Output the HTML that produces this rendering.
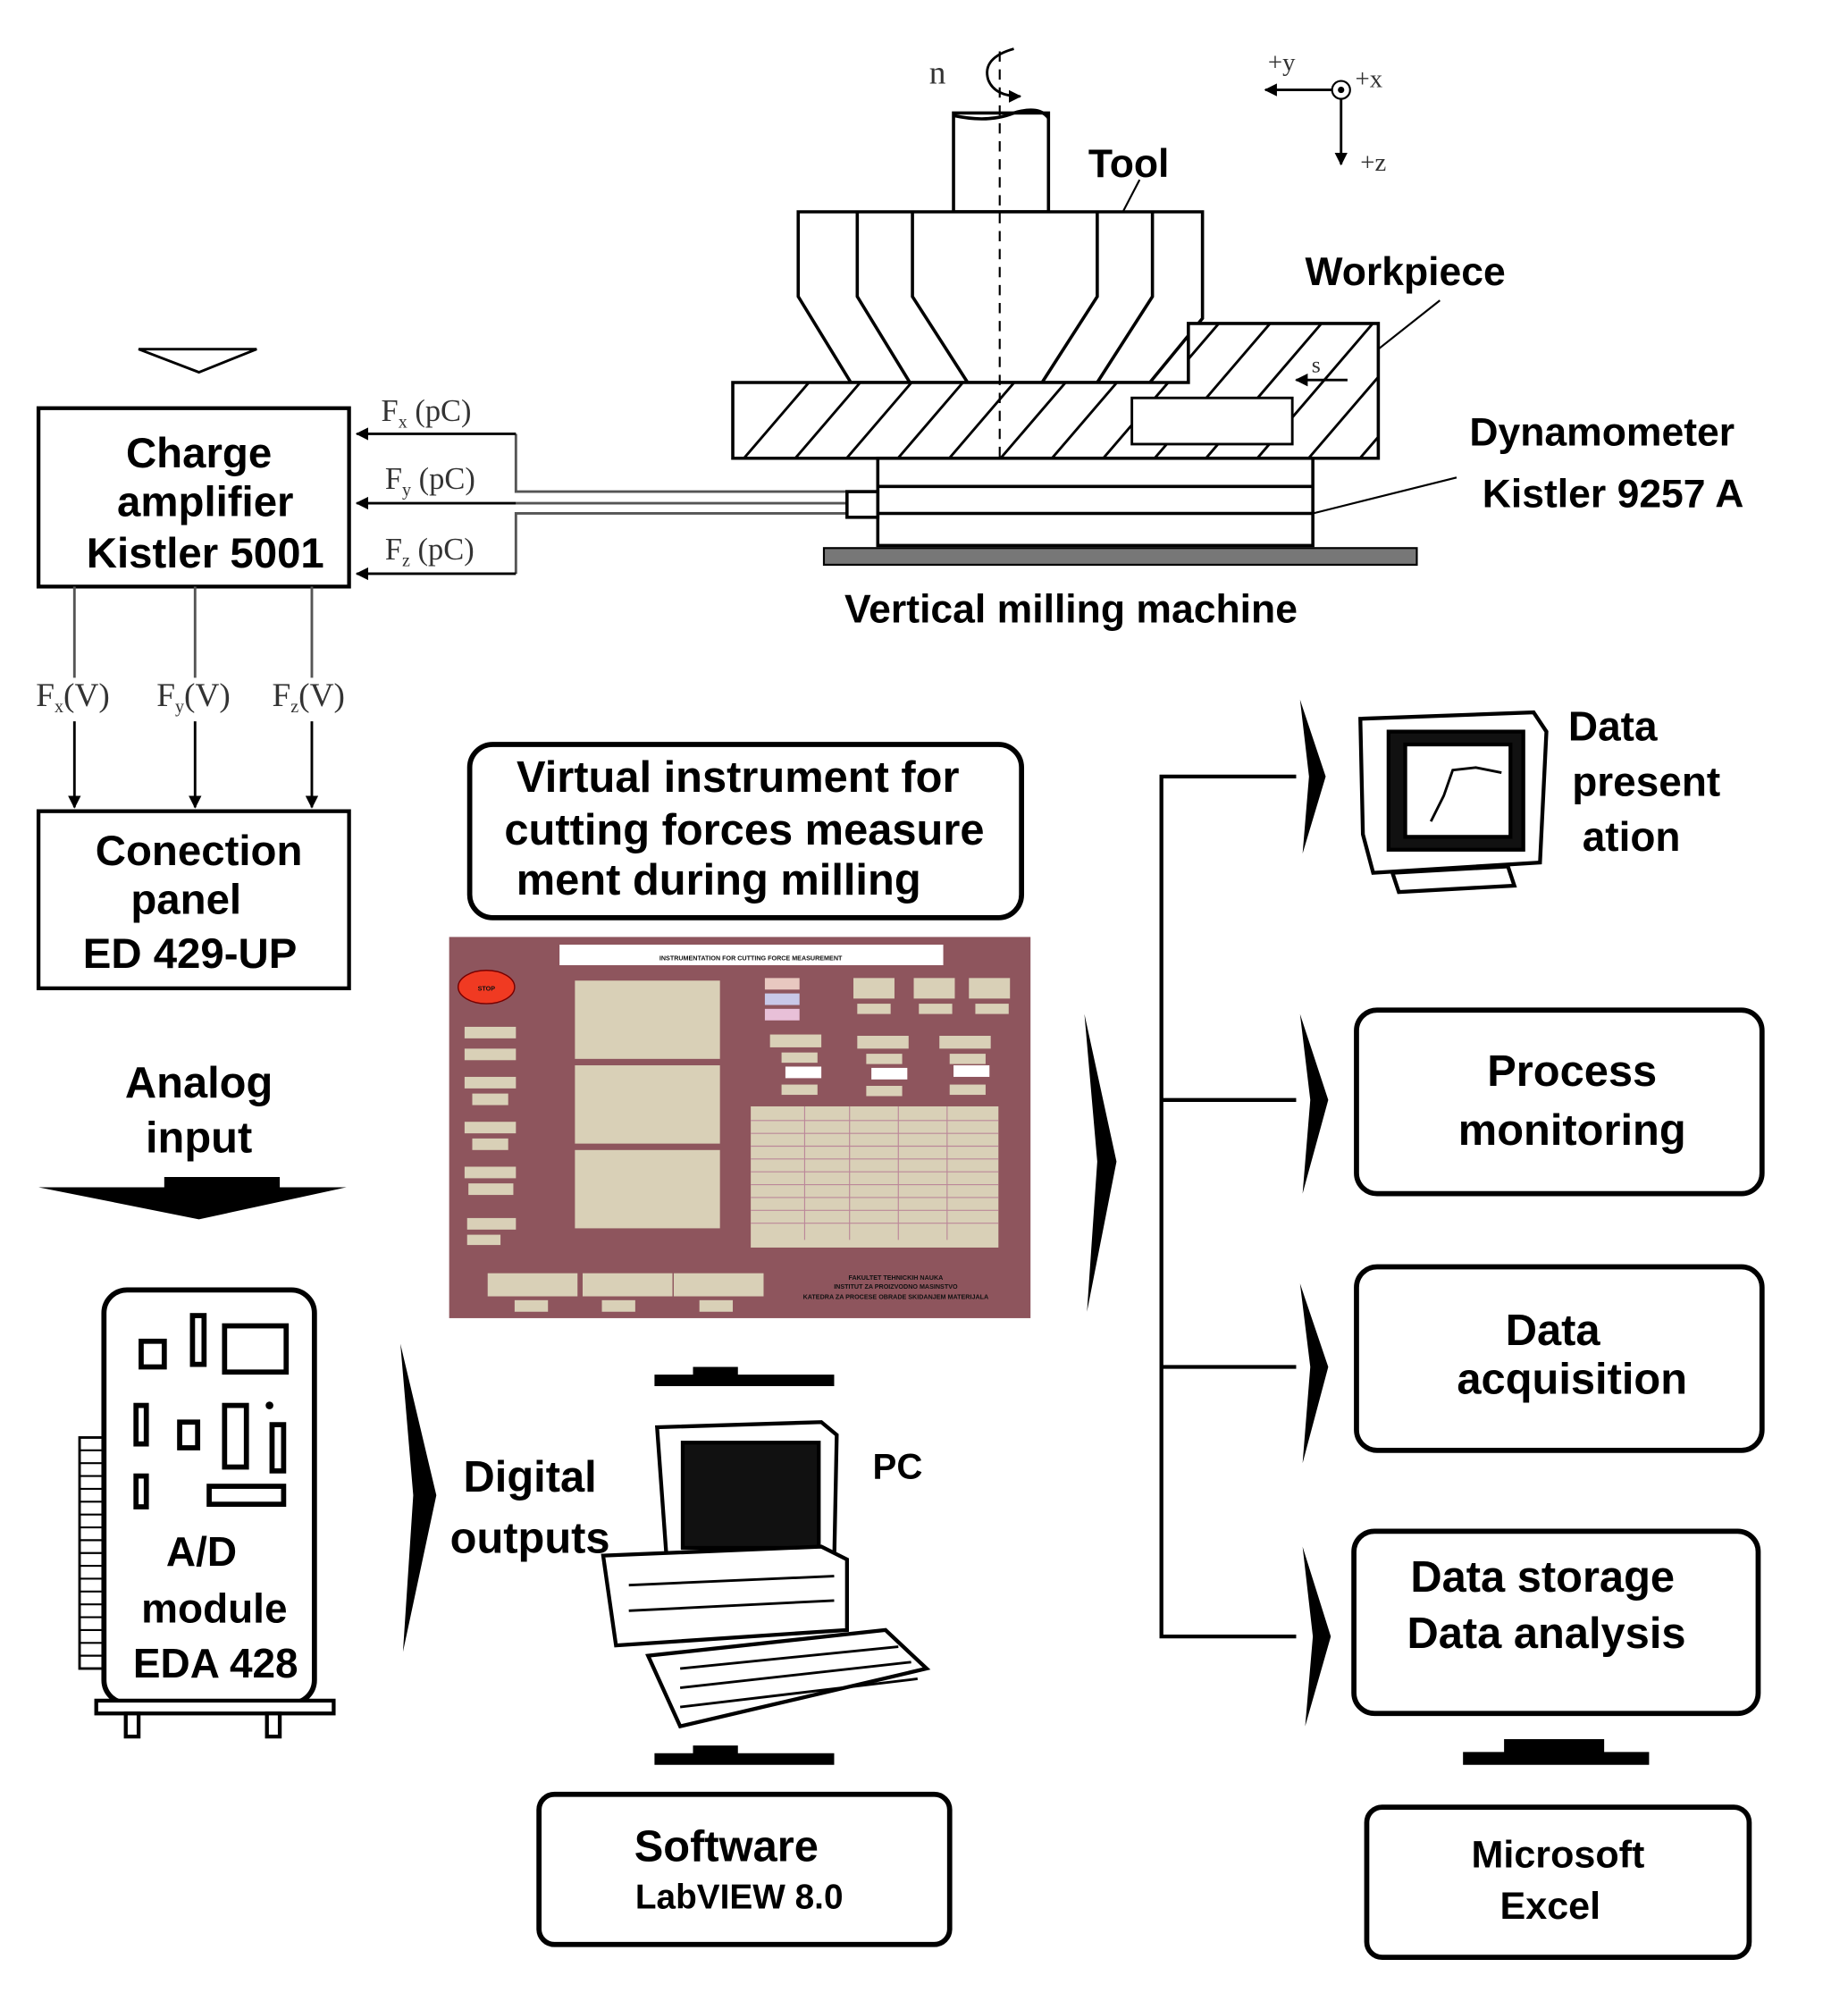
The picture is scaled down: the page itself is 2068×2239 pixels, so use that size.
<!DOCTYPE html>
<html><head><meta charset="utf-8"><style>
html,body{margin:0;padding:0;background:#fff;}
svg{display:block;}
.b{font-family:"Liberation Sans",sans-serif;font-weight:bold;fill:#000;}
.s{font-family:"Liberation Serif",serif;fill:#333;}
.p{font-family:"Liberation Sans",sans-serif;font-weight:bold;fill:#111;font-size:5px;}
</style></head><body>
<svg width="2068" height="2239" viewBox="0 0 1440 1559" xmlns="http://www.w3.org/2000/svg">
<defs>
<marker id="ah" markerWidth="10" markerHeight="10" refX="9" refY="5" orient="auto" markerUnits="userSpaceOnUse"><path d="M0,0 L10,5 L0,10 Z" fill="#000"/></marker>
<clipPath id="plate"><path d="M571,298 L926,298 L926,252 L1074,252 L1074,357 L571,357 Z"/></clipPath>
</defs>

<path d="M108,272 L200,272 L155,290 Z" fill="#fff" stroke="#000" stroke-width="2"/>

<rect x="30" y="318" width="242" height="139" fill="#fff" stroke="#000" stroke-width="3"/>
<text class="b" x="155" y="364" font-size="33" text-anchor="middle">Charge</text>
<text class="b" x="160" y="402" font-size="33" text-anchor="middle">amplifier</text>
<text class="b" x="160" y="442" font-size="33" text-anchor="middle">Kistler 5001</text>

<g fill="none" stroke="#555" stroke-width="2">
<polyline points="402,338 402,383 660,383"/>
<polyline points="402,447 402,400 660,400"/>
<line x1="402" y1="392" x2="660" y2="392"/>
<line x1="402" y1="338" x2="278" y2="338" stroke="#000" marker-end="url(#ah)"/>
<line x1="402" y1="392" x2="278" y2="392" stroke="#000" marker-end="url(#ah)"/>
<line x1="402" y1="447" x2="278" y2="447" stroke="#000" marker-end="url(#ah)"/>
</g>
<text class="s" x="297" y="328" font-size="24">F<tspan font-size="14" dy="5">x</tspan><tspan dy="-5"> (pC)</tspan></text>
<text class="s" x="300" y="381" font-size="24">F<tspan font-size="14" dy="5">y</tspan><tspan dy="-5"> (pC)</tspan></text>
<text class="s" x="300" y="436" font-size="24">F<tspan font-size="14" dy="5">z</tspan><tspan dy="-5"> (pC)</tspan></text>

<g stroke="#000" stroke-width="2.5" fill="none">
<rect x="743" y="88" width="74" height="77" fill="#fff"/>
<path d="M743,90 Q770,96 790,88 Q810,82 817,92" />
<path d="M622,165 L937,165 L937,248 L896,298 L663,298 L622,231 Z" fill="#fff"/>
<polyline points="668,165 668,231 709,298"/>
<polyline points="711,165 711,231 754,298"/>
<polyline points="855,165 855,231 812,298"/>
<polyline points="898,165 898,231 855,298"/>
<path d="M571,298 L926,298 L926,252 L1074,252 L1074,357 L571,357 Z" fill="#fff"/>
</g>
<g clip-path="url(#plate)" stroke="#000" stroke-width="2">
<line x1="560" y1="380" x2="680" y2="240"/><line x1="600" y1="380" x2="720" y2="240"/>
<line x1="640" y1="380" x2="760" y2="240"/><line x1="680" y1="380" x2="800" y2="240"/>
<line x1="720" y1="380" x2="840" y2="240"/><line x1="760" y1="380" x2="880" y2="240"/>
<line x1="800" y1="380" x2="920" y2="240"/><line x1="840" y1="380" x2="960" y2="240"/>
<line x1="880" y1="380" x2="1000" y2="240"/><line x1="920" y1="380" x2="1040" y2="240"/>
<line x1="960" y1="380" x2="1080" y2="240"/><line x1="1000" y1="380" x2="1120" y2="240"/>
<line x1="1040" y1="380" x2="1160" y2="240"/>
</g>
<rect x="882" y="310" width="125" height="36" fill="#fff" stroke="#000" stroke-width="2"/>
<line x1="779" y1="40" x2="779" y2="360" stroke="#000" stroke-width="1.5" stroke-dasharray="8,6"/>
<line x1="1050" y1="296" x2="1010" y2="296" stroke="#000" stroke-width="2" marker-end="url(#ah)"/>
<text class="s" x="1022" y="290" font-size="18">s</text>
<g stroke="#000" stroke-width="2.5" fill="#fff">
<rect x="684" y="357" width="339" height="68"/>
<line x1="684" y1="379" x2="1023" y2="379"/>
<line x1="684" y1="400" x2="1023" y2="400"/>
<rect x="660" y="383" width="24" height="20"/>
</g>
<rect x="642" y="427" width="462" height="13" fill="#777" stroke="#000" stroke-width="1.5"/>
<path d="M790,38 Q765,45 770,62 Q775,75 795,75" fill="none" stroke="#000" stroke-width="2" marker-end="url(#ah)"/>
<text class="s" x="724" y="65" font-size="26">n</text>
<circle cx="1045" cy="70" r="7" fill="none" stroke="#000" stroke-width="1.5"/>
<circle cx="1045" cy="70" r="2.5" fill="#000"/>
<line x1="1038" y1="70" x2="986" y2="70" stroke="#000" stroke-width="2" marker-end="url(#ah)"/>
<line x1="1045" y1="77" x2="1045" y2="128" stroke="#000" stroke-width="2" marker-end="url(#ah)"/>
<text class="s" x="988" y="55" font-size="20">+y</text>
<text class="s" x="1056" y="68" font-size="20">+x</text>
<text class="s" x="1060" y="133" font-size="20">+z</text>
<text class="b" x="848" y="138" font-size="31">Tool</text>
<line x1="888" y1="140" x2="875" y2="165" stroke="#000" stroke-width="1.5"/>
<text class="b" x="1017" y="222" font-size="31">Workpiece</text>
<line x1="1122" y1="234" x2="1074" y2="272" stroke="#000" stroke-width="1.5"/>
<text class="b" x="1145" y="347" font-size="31">Dynamometer</text>
<text class="b" x="1155" y="395" font-size="31">Kistler 9257 A</text>
<line x1="1135" y1="372" x2="1023" y2="400" stroke="#000" stroke-width="1.5"/>
<text class="b" x="658" y="485" font-size="31">Vertical milling machine</text>

<g stroke="#555" stroke-width="2">
<line x1="58" y1="457" x2="58" y2="528"/><line x1="152" y1="457" x2="152" y2="528"/><line x1="243" y1="457" x2="243" y2="528"/>
<line x1="58" y1="562" x2="58" y2="629" stroke="#000" marker-end="url(#ah)"/>
<line x1="152" y1="562" x2="152" y2="629" stroke="#000" marker-end="url(#ah)"/>
<line x1="243" y1="562" x2="243" y2="629" stroke="#000" marker-end="url(#ah)"/>
</g>
<text class="s" x="28" y="550" font-size="26" fill="#555">F<tspan font-size="14" dy="5">x</tspan><tspan dy="-5">(V)</tspan></text>
<text class="s" x="122" y="550" font-size="26" fill="#555">F<tspan font-size="14" dy="5">y</tspan><tspan dy="-5">(V)</tspan></text>
<text class="s" x="212" y="550" font-size="26" fill="#555">F<tspan font-size="14" dy="5">z</tspan><tspan dy="-5">(V)</tspan></text>

<rect x="30" y="632" width="242" height="138" fill="#fff" stroke="#000" stroke-width="3"/>
<text class="b" x="155" y="674" font-size="33" text-anchor="middle">Conection</text>
<text class="b" x="145" y="712" font-size="33" text-anchor="middle">panel</text>
<text class="b" x="148" y="754" font-size="33" text-anchor="middle">ED 429-UP</text>

<text class="b" x="155" y="855" font-size="34" text-anchor="middle">Analog</text>
<text class="b" x="155" y="898" font-size="34" text-anchor="middle">input</text>
<path d="M128,917 L218,917 L218,925 L270,925 L155,950 L30,925 L128,925 Z" fill="#000"/>

<rect x="62" y="1120" width="20" height="180" fill="#fff" stroke="#000" stroke-width="2"/>
<g stroke="#000" stroke-width="1.5"><line x1="62" y1="1130" x2="82" y2="1130"/><line x1="62" y1="1140" x2="82" y2="1140"/><line x1="62" y1="1150" x2="82" y2="1150"/><line x1="62" y1="1160" x2="82" y2="1160"/><line x1="62" y1="1170" x2="82" y2="1170"/><line x1="62" y1="1180" x2="82" y2="1180"/><line x1="62" y1="1190" x2="82" y2="1190"/><line x1="62" y1="1200" x2="82" y2="1200"/><line x1="62" y1="1210" x2="82" y2="1210"/><line x1="62" y1="1220" x2="82" y2="1220"/><line x1="62" y1="1230" x2="82" y2="1230"/><line x1="62" y1="1240" x2="82" y2="1240"/><line x1="62" y1="1250" x2="82" y2="1250"/><line x1="62" y1="1260" x2="82" y2="1260"/><line x1="62" y1="1270" x2="82" y2="1270"/><line x1="62" y1="1280" x2="82" y2="1280"/><line x1="62" y1="1290" x2="82" y2="1290"/></g>
<rect x="81" y="1005" width="164" height="322" rx="18" fill="#fff" stroke="#000" stroke-width="4"/>
<rect x="75" y="1325" width="185" height="10" fill="#fff" stroke="#000" stroke-width="3"/>
<rect x="98" y="1335" width="10" height="18" fill="#fff" stroke="#000" stroke-width="3"/>
<rect x="208" y="1335" width="10" height="18" fill="#fff" stroke="#000" stroke-width="3"/>
<g fill="#fff" stroke="#000" stroke-width="4">
<rect x="110" y="1045" width="18" height="20"/><rect x="150" y="1025" width="9" height="38"/><rect x="175" y="1033" width="48" height="36"/>
<rect x="106" y="1095" width="8" height="30"/><rect x="140" y="1108" width="14" height="20"/><rect x="175" y="1095" width="17" height="48"/><rect x="212" y="1110" width="9" height="36"/>
<rect x="106" y="1150" width="8" height="24"/><rect x="163" y="1158" width="58" height="14"/>
</g>
<circle cx="210" cy="1095" r="3" fill="#000"/>
<text class="b" x="157" y="1220" font-size="32" text-anchor="middle">A/D</text>
<text class="b" x="167" y="1264" font-size="32" text-anchor="middle">module</text>
<text class="b" x="168" y="1307" font-size="32" text-anchor="middle">EDA 428</text>

<path d="M312,1047 L340,1165 L314,1287 L322,1165 Z" fill="#000"/>
<text class="b" x="413" y="1162" font-size="34" text-anchor="middle">Digital</text>
<text class="b" x="413" y="1210" font-size="34" text-anchor="middle">outputs</text>

<rect x="366" y="580" width="430" height="135" rx="18" fill="#fff" stroke="#000" stroke-width="4"/>
<text class="b" x="575" y="617" font-size="34" text-anchor="middle">Virtual instrument for</text>
<text class="b" x="580" y="658" font-size="34" text-anchor="middle">cutting  forces measure</text>
<text class="b" x="560" y="697" font-size="34" text-anchor="middle">ment  during milling</text>

<rect x="350" y="730" width="453" height="297" fill="#8e555d"/>
<rect x="436" y="736" width="299" height="16" fill="#fff"/>
<text class="p" x="585" y="748" font-size="10" text-anchor="middle">INSTRUMENTATION FOR CUTTING FORCE MEASUREMENT</text>
<ellipse cx="379" cy="769" rx="22" ry="13" fill="#f03a22" stroke="#700" stroke-width="1"/>
<text class="p" x="379" y="772" text-anchor="middle" fill="#fff">STOP</text>
<g fill="#d9d0b7">
<rect x="448" y="764" width="113" height="61"/><rect x="448" y="830" width="113" height="61"/><rect x="448" y="896" width="113" height="61"/>
<rect x="585" y="862" width="193" height="110"/>
<rect x="362" y="800" width="40" height="9"/><rect x="362" y="817" width="40" height="9"/><rect x="362" y="839" width="40" height="9"/><rect x="368" y="852" width="28" height="9"/>
<rect x="362" y="874" width="40" height="9"/><rect x="368" y="887" width="28" height="9"/><rect x="362" y="909" width="40" height="9"/><rect x="365" y="922" width="35" height="9"/>
<rect x="364" y="949" width="38" height="9"/><rect x="364" y="962" width="26" height="8"/>
<rect x="665" y="762" width="32" height="16"/><rect x="712" y="762" width="32" height="16"/><rect x="755" y="762" width="32" height="16"/>
<rect x="668" y="782" width="26" height="8"/><rect x="716" y="782" width="26" height="8"/><rect x="760" y="782" width="26" height="8"/>
<rect x="600" y="806" width="40" height="10"/><rect x="668" y="807" width="40" height="10"/><rect x="732" y="807" width="40" height="10"/>
<rect x="609" y="820" width="28" height="8"/><rect x="675" y="821" width="28" height="8"/><rect x="740" y="821" width="28" height="8"/>
<rect x="609" y="845" width="28" height="8"/><rect x="675" y="846" width="28" height="8"/><rect x="740" y="845" width="28" height="8"/>
<rect x="380" y="992" width="70" height="18"/><rect x="454" y="992" width="70" height="18"/><rect x="525" y="992" width="70" height="18"/>
<rect x="401" y="1013" width="26" height="9"/><rect x="469" y="1013" width="26" height="9"/><rect x="545" y="1013" width="26" height="9"/>
</g>
<g fill="#fff"><rect x="612" y="831" width="28" height="9"/><rect x="679" y="832" width="28" height="9"/><rect x="743" y="830" width="28" height="9"/></g>
<rect x="596" y="762" width="27" height="9" fill="#e8c8c0"/><rect x="596" y="774" width="27" height="9" fill="#c8c8e8"/><rect x="596" y="786" width="27" height="9" fill="#e8c0d8"/>
<g stroke="#b89" stroke-width="0.8">
<line x1="585" y1="873" x2="778" y2="873"/><line x1="585" y1="883" x2="778" y2="883"/><line x1="585" y1="893" x2="778" y2="893"/><line x1="585" y1="903" x2="778" y2="903"/><line x1="585" y1="913" x2="778" y2="913"/><line x1="585" y1="923" x2="778" y2="923"/><line x1="585" y1="933" x2="778" y2="933"/><line x1="585" y1="943" x2="778" y2="943"/><line x1="585" y1="953" x2="778" y2="953"/>
<line x1="627" y1="862" x2="627" y2="966"/><line x1="662" y1="862" x2="662" y2="966"/><line x1="700" y1="862" x2="700" y2="966"/><line x1="738" y1="862" x2="738" y2="966"/>
</g>
<text class="p" x="698" y="997" text-anchor="middle">FAKULTET TEHNICKIH NAUKA</text>
<text class="p" x="698" y="1004" text-anchor="middle">INSTITUT ZA PROIZVODNO MASINSTVO</text>
<text class="p" x="698" y="1012" text-anchor="middle">KATEDRA ZA PROCESE OBRADE SKIDANJEM MATERIJALA</text>

<!-- PC -->
<path d="M540,1065 L575,1065 L575,1071 L650,1071 L650,1080 L510,1080 L510,1071 L540,1071 Z" fill="#000"/>
<g stroke="#000" stroke-width="3" fill="#fff">
<path d="M512,1112 L640,1108 L652,1118 L650,1218 L520,1222 Z"/>
<rect x="532" y="1124" width="106" height="82" fill="#111"/>
<path d="M470,1212 L640,1205 L660,1215 L660,1270 L480,1282 Z"/>
<path d="M505,1290 L690,1270 L722,1300 L530,1345 Z"/>
</g>
<g stroke="#000" stroke-width="2"><line x1="490" y1="1235" x2="650" y2="1228"/><line x1="490" y1="1255" x2="650" y2="1247"/><line x1="530" y1="1300" x2="700" y2="1283"/><line x1="530" y1="1315" x2="710" y2="1295"/><line x1="530" y1="1330" x2="715" y2="1308"/></g>
<text class="b" x="680" y="1152" font-size="28">PC</text>
<path d="M540,1360 L575,1360 L575,1366 L650,1366 L650,1375 L510,1375 L510,1366 L540,1366 Z" fill="#000"/>

<rect x="420" y="1398" width="320" height="117" rx="12" fill="#fff" stroke="#000" stroke-width="4"/>
<text class="b" x="566" y="1450" font-size="34" text-anchor="middle">Software</text>
<text class="b" x="576" y="1487" font-size="27" text-anchor="middle">LabVIEW 8.0</text>

<path d="M845,790 L870,905 L847,1022 L855,905 Z" fill="#000"/>

<g stroke="#000" stroke-width="3" fill="none">
<polyline points="1010,605 905,605 905,1275 1010,1275"/>
<line x1="905" y1="857" x2="1010" y2="857"/>
<line x1="905" y1="1065" x2="1010" y2="1065"/>
</g>
<path d="M1013,545 L1033,605 L1015,665 L1020,605 Z" fill="#000"/>
<path d="M1013,790 L1035,857 L1015,930 L1021,857 Z" fill="#000"/>
<path d="M1013,1000 L1035,1065 L1015,1140 L1021,1065 Z" fill="#000"/>
<path d="M1015,1205 L1037,1275 L1017,1345 L1023,1275 Z" fill="#000"/>

<g stroke="#000" stroke-width="3" fill="#fff">
<path d="M1060,560 L1195,555 L1205,570 L1200,672 L1070,680 L1062,650 Z"/>
<rect x="1082" y="570" width="105" height="92" fill="#111"/>
<rect x="1095" y="580" width="82" height="72" fill="#fff"/>
<path d="M1085,680 L1175,675 L1180,690 L1090,695 Z"/>
</g>
<polyline points="1115,640 1125,620 1132,600 1150,598 1170,602" fill="none" stroke="#000" stroke-width="2"/>
<text class="b" x="1222" y="577" font-size="32">Data</text>
<text class="b" x="1225" y="620" font-size="32">present</text>
<text class="b" x="1233" y="663" font-size="32">ation</text>

<rect x="1057" y="787" width="316" height="143" rx="16" fill="#fff" stroke="#000" stroke-width="4"/>
<text class="b" x="1225" y="846" font-size="34" text-anchor="middle">Process</text>
<text class="b" x="1225" y="892" font-size="34" text-anchor="middle">monitoring</text>
<rect x="1057" y="987" width="316" height="143" rx="16" fill="#fff" stroke="#000" stroke-width="4"/>
<text class="b" x="1210" y="1048" font-size="34" text-anchor="middle">Data</text>
<text class="b" x="1225" y="1086" font-size="34" text-anchor="middle">acquisition</text>
<rect x="1055" y="1193" width="315" height="142" rx="16" fill="#fff" stroke="#000" stroke-width="4"/>
<text class="b" x="1202" y="1240" font-size="34" text-anchor="middle">Data storage</text>
<text class="b" x="1205" y="1284" font-size="34" text-anchor="middle">Data analysis</text>
<path d="M1172,1355 L1250,1355 L1250,1365 L1285,1365 L1285,1375 L1140,1375 L1140,1365 L1172,1365 Z" fill="#000"/>
<rect x="1065" y="1408" width="298" height="117" rx="12" fill="#fff" stroke="#000" stroke-width="4"/>
<text class="b" x="1214" y="1455" font-size="30" text-anchor="middle">Microsoft</text>
<text class="b" x="1208" y="1495" font-size="30" text-anchor="middle">Excel</text>
</svg>
</body></html>
